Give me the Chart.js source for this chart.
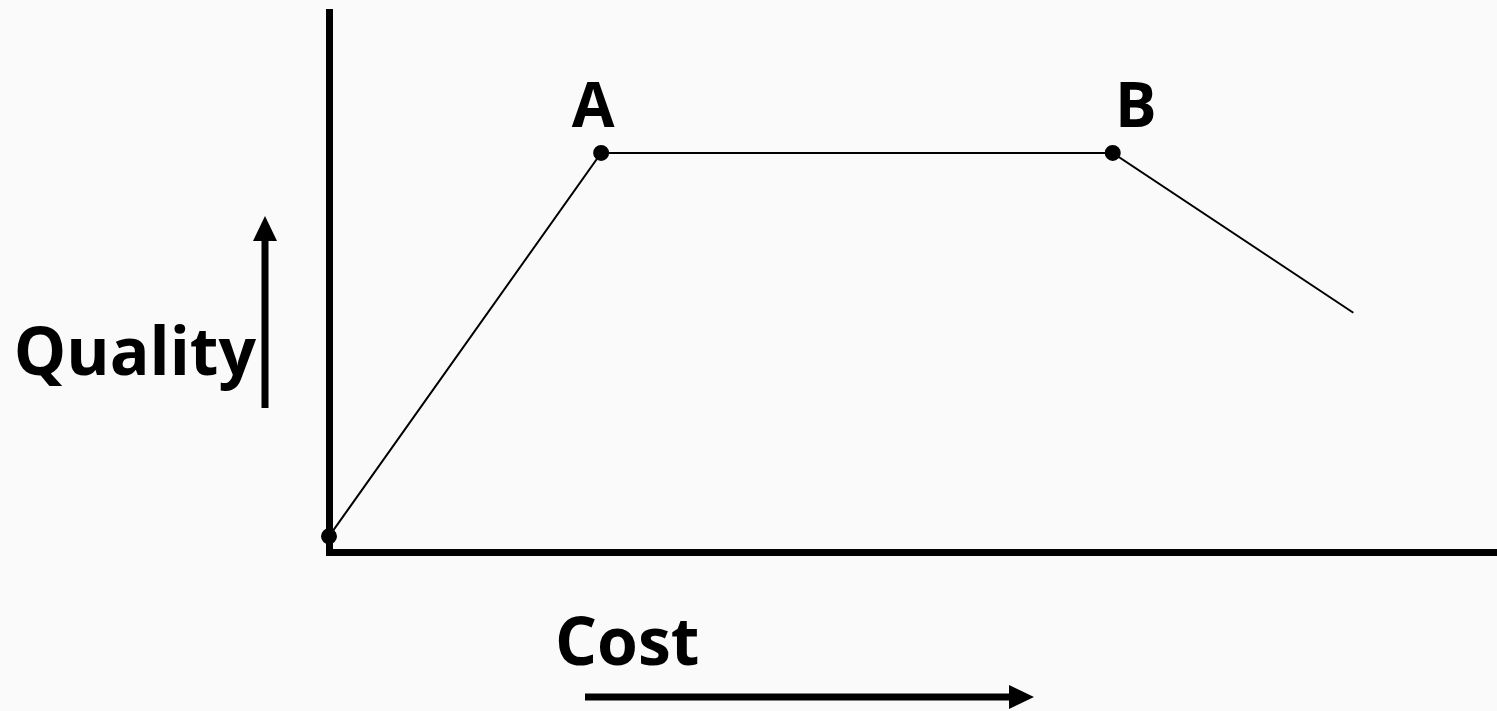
<!DOCTYPE html>
<html>
<head>
<meta charset="utf-8">
<script src="https://cdn.jsdelivr.net/npm/chart.js@4"></script>
<style>
  html, body { margin: 0; padding: 0; background: #fafafa; }
  #wrap { width: 1497px; height: 711px; position: relative; }
</style>
</head>
<body>
<div id="wrap"><canvas id="c" width="1497" height="711"></canvas></div>
<script>
// Data (x = cost, y = quality, arbitrary 0-100 units)
const costValues = [0, 23.3, 67.1, 87.7];
const qualityValues = [2.9, 73.9, 73.9, 44.3];
const pointLabels = ['', 'A', 'B', ''];
const pointSizes = [7, 7, 7, 0];
const xAxisTitle = 'Cost';
const yAxisTitle = 'Quality';

const FONT = '"Open Sans", "Liberation Sans", sans-serif';

const annotatePlugin = {
  id: 'annotate',
  afterDatasetsDraw(chart) {
    const ctx = chart.ctx;
    const meta = chart.getDatasetMeta(0);
    const area = chart.chartArea;
    ctx.save();
    ctx.fillStyle = '#000';
    ctx.strokeStyle = '#000';
    // point labels
    ctx.font = 'bold 62px ' + FONT;
    ctx.textAlign = 'center';
    ctx.textBaseline = 'alphabetic';
    meta.data.forEach((pt, i) => {
      const lbl = pointLabels[i];
      if (!lbl) return;
      const dx = lbl === 'A' ? -8 : 23;
      ctx.fillText(lbl, pt.x + dx, pt.y - 26);
    });
    // y axis title with up arrow
    ctx.font = 'bold 66px ' + FONT;
    ctx.textAlign = 'right';
    ctx.fillText(yAxisTitle, area.left - 73, 375);
    const ax = area.left - 64;
    ctx.lineWidth = 7;
    ctx.beginPath();
    ctx.moveTo(ax, 408);
    ctx.lineTo(ax, 238);
    ctx.stroke();
    ctx.beginPath();
    ctx.moveTo(ax, 216);
    ctx.lineTo(ax - 12, 241);
    ctx.lineTo(ax + 12, 241);
    ctx.closePath();
    ctx.fill();
    // x axis title with right arrow
    ctx.textAlign = 'left';
    ctx.fillText(xAxisTitle, 555, 665);
    const ay = 697;
    ctx.beginPath();
    ctx.moveTo(585, ay);
    ctx.lineTo(1012, ay);
    ctx.stroke();
    ctx.beginPath();
    ctx.moveTo(1034, ay);
    ctx.lineTo(1009, ay - 12);
    ctx.lineTo(1009, ay + 12);
    ctx.closePath();
    ctx.fill();
    ctx.restore();
  }
};

new Chart(document.getElementById('c'), {
  type: 'line',
  data: {
    datasets: [{
      data: costValues.map((x, i) => ({ x: x, y: qualityValues[i] })),
      borderColor: '#000',
      borderWidth: 2,
      backgroundColor: '#000',
      pointBackgroundColor: '#000',
      pointBorderColor: '#000',
      pointBorderWidth: 2,
      pointRadius: pointSizes,
      pointHoverRadius: pointSizes,
      tension: 0,
      fill: false,
      clip: false
    }]
  },
  options: {
    responsive: false,
    animation: false,
    events: [],
    layout: { autoPadding: false, padding: { left: 329, right: 0, top: 12, bottom: 159 } },
    plugins: { legend: { display: false }, tooltip: { enabled: false } },
    scales: {
      x: {
        type: 'linear', min: 0, max: 100,
        ticks: { display: false },
        grid: { display: false, drawTicks: false, lineWidth: 0 },
        border: { display: true, color: '#000', width: 7 },
        afterFit(s) { s.height = 0; }
      },
      y: {
        type: 'linear', min: 0, max: 100,
        ticks: { display: false },
        grid: { display: false, drawTicks: false, lineWidth: 0 },
        border: { display: true, color: '#000', width: 7 },
        afterFit(s) { s.width = 0; }
      }
    }
  },
  plugins: [annotatePlugin]
});
</script>
</body>
</html>
